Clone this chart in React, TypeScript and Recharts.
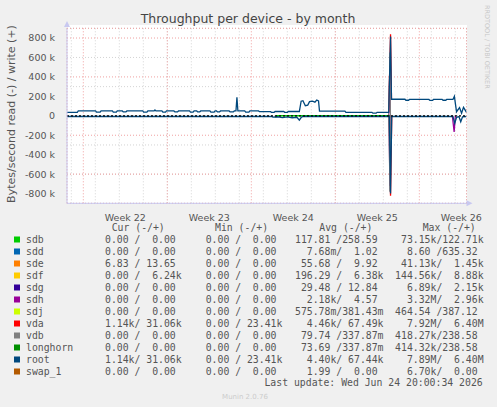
import React from 'react';
import { LineChart, Line, XAxis, YAxis, CartesianGrid, ReferenceLine } from 'recharts';

// time is in days, day 0 = start of week 22; values in k bytes/s
const rootWrite: [number, number][] = [
  [-1.36, 36], [-0.5, 36], [-0.42, 50],
  [1.02, 50], [1.1, 37], [1.4, 37], [1.48, 50],
  [2.42, 50], [2.5, 37], [2.75, 37], [2.83, 50],
  [3.25, 50], [3.33, 40], [3.55, 40], [3.63, 50],
  [4.95, 50], [5.03, 38], [5.3, 38], [5.38, 50],
  [5.9, 50], [5.97, 60], [6.05, 50],
  [6.55, 50], [6.63, 38], [6.85, 38], [6.93, 50],
  [7.55, 50], [7.63, 40], [7.85, 40], [7.93, 50],
  [8.85, 50], [8.93, 38], [9.15, 38], [9.23, 50],
  [9.45, 50], [9.53, 40], [9.7, 40], [9.78, 50],
  [10.55, 50], [10.63, 38], [10.9, 38], [10.98, 50],
  [11.1, 50], [11.18, 40], [11.35, 40], [11.43, 50],
  [12.15, 50], [12.23, 40], [12.5, 40], [12.58, 50],
  [12.72, 50], [12.8, 190], [12.88, 50],
  [13.45, 50], [13.53, 38], [13.8, 38], [13.88, 50],
  [14.6, 50], [14.68, 42],
  [15.6, 42], [15.68, 36], [15.9, 36], [15.98, 44],
  [16.7, 44], [16.78, 36], [17.0, 36], [17.08, 44],
  [18.0, 44], [18.15, 150], [18.3, 155], [18.5, 104], [18.7, 110], [18.85, 145],
  [19.1, 150], [19.3, 140], [19.45, 162], [19.6, 152], [19.68, 48],
  [21.8, 48], [21.88, 36], [24.05, 36], [24.13, 27], [24.4, 27], [24.48, 36],
  [25.45, 36], [25.6, 815], [25.68, 170],
  [26.8, 170], [26.88, 160], [27.1, 160], [27.18, 168],
  [28.8, 168], [28.88, 158], [29.1, 158], [29.18, 168],
  [29.9, 168], [29.98, 160], [30.2, 160], [30.28, 168],
  [30.8, 168], [30.92, 200], [31.1, 42], [31.35, 85], [31.52, 26], [31.68, 87], [31.93, 36],
];

const rootRead: [number, number][] = [
  [-1.36, -7], [15.7, -7], [15.8, -14], [16.2, -10], [16.6, -18], [17.0, -12],
  [17.4, -20], [17.8, -15], [18.0, -44], [18.15, -18], [18.3, -7],
  [25.5, -7], [25.6, -800], [25.7, -7],
  [30.8, -7], [30.95, -78], [31.1, -15], [31.3, -8], [31.45, -62], [31.6, -10], [31.93, -7],
];

const vdaWrite: [number, number][] = [[25.45, 36], [25.6, 838], [25.68, 170]];
const vdaRead: [number, number][] = [[25.5, -7], [25.6, -822], [25.7, -7]];
const vdbWrite: [number, number][] = [[25.44, 0], [25.55, 650], [25.6, 0]];
const vdbRead: [number, number][] = [[25.44, 0], [25.55, -780], [25.62, 0]];
const sdhWrite: [number, number][] = [[25.46, 0], [25.54, 600], [25.6, 0]];
const sdhSpikeRead: [number, number][] = [[25.46, 0], [25.54, -720], [25.62, 0]];
const sdhDipRead: [number, number][] = [[30.75, 0], [30.9, -165], [31.0, 0]];
const sdbRead: [number, number][] = [[16.0, 0], [16.05, -8], [16.1, 0], [25.55, 0], [25.6, -12], [25.65, 0]];

const weekTicks = [3.5, 10.5, 17.5, 24.5, 31.5];
const weekLabels = ['Week 22', 'Week 23', 'Week 24', 'Week 25', 'Week 26'];
const weekStarts = [0, 7, 14, 21, 28];
const dayTicks = Array.from({ length: 33 }, (_, i) => i - 1);
const yTicks = [-800000, -600000, -400000, -200000, 0, 200000, 400000, 600000, 800000];
const yMinor = [-900000, -800000, -700000, -600000, -500000, -400000, -300000, -200000, -100000,
  0, 100000, 200000, 300000, 400000, 500000, 600000, 700000, 800000, 900000];
const yMajor = [-800000, -600000, -400000, -200000, 200000, 400000, 600000, 800000];

const legendNames = ['sdb', 'sdd', 'sde', 'sdf', 'sdg', 'sdh', 'sdj', 'vda', 'vdb', 'longhorn', 'root', 'swap_1'];
const legendColors = ['#00CC00', '#0066B3', '#FF8000', '#FFCC00', '#330099', '#990099', '#CCFF00',
  '#FF0000', '#808080', '#008F00', '#00487D', '#B35A00'];
const curVals = ['  0.00 /  0.00', '  0.00 /  0.00', '  6.83 / 13.65', '  0.00 /  6.24k', '  0.00 /  0.00',
  '  0.00 /  0.00', '  0.00 /  0.00', '  1.14k/ 31.06k', '  0.00 /  0.00', '  0.00 /  0.00',
  '  1.14k/ 31.06k', '  0.00 /  0.00'];
const minVals = ['  0.00 /  0.00', '  0.00 /  0.00', '  0.00 /  0.00', '  0.00 /  0.00', '  0.00 /  0.00',
  '  0.00 /  0.00', '  0.00 /  0.00', '  0.00 / 23.41k', '  0.00 /  0.00', '  0.00 /  0.00',
  '  0.00 / 23.41k', '  0.00 /  0.00'];
const avgVals = ['117.81 /258.59', '  7.68m/  1.02', ' 55.68 /  9.92', '196.29 /  6.38k', ' 29.48 / 12.84',
  '  2.18k/  4.57', '575.78m/381.43m', '  4.46k/ 67.49k', ' 79.74 /337.87m', ' 73.69 /337.87m',
  '  4.40k/ 67.44k', '  1.99 /  0.00'];
const maxVals = [' 73.15k/122.71k', '  8.60 /635.32', ' 41.13k/  1.45k', '144.56k/  8.88k', '  6.89k/  2.15k',
  '  3.32M/  2.96k', '464.54 /387.12', '  7.92M/  6.40M', '418.27k/238.58', '414.32k/238.58',
  '  7.89M/  6.40M', '  6.70k/  0.00'];

const toPts = (a: [number, number][]) => a.map(([d, v]) => ({ d, v: v * 1000 }));

const SANS = 'DejaVu Sans';
const MONO = 'DejaVu Sans Mono';
const AXIS = '#c8c8f0';

function series(data: [number, number][], color: string, key: string, width = 1.3) {
  return (
    <Line
      key={key}
      data={toPts(data)}
      dataKey="v"
      type="linear"
      stroke={color}
      strokeWidth={width}
      dot={false}
      activeDot={false}
      isAnimationActive={false}
    />
  );
}

export default function App() {
  const yFmt = (v: number) => (v === 0 ? '0' : `${v / 1000} k`);
  const wFmt = (v: number) => weekLabels[weekTicks.indexOf(v)] ?? '';
  const cols = [93.2, 193.9, 295, 395.1];
  const headers = [
    ['Cur (-/+)', 111.7],
    ['Min (-/+)', 215],
    ['Avg (-/+)', 319.3],
    ['Max (-/+)', 422.7],
  ] as const;

  return (
    <div style={{ position: 'fixed', left: 0, top: 0, width: 497, height: 407, background: '#f0f0f0', overflow: 'hidden' }}>
      <div style={{ position: 'absolute', left: 67, top: 25, width: 399.5, height: 178.3, background: '#fff' }} />
      <div style={{ position: 'absolute', left: 0, top: 0 }}>
        <LineChart width={497} height={407} margin={{ top: 28.3, right: 30.5, bottom: 183.7, left: 7 }}>
          <XAxis xAxisId="days" type="number" dataKey="d" domain={[-1.36, 31.93]} ticks={dayTicks} hide allowDataOverflow />
          <XAxis xAxisId="weeks" type="number" dataKey="d" domain={[-1.36, 31.93]} ticks={weekStarts} hide allowDataOverflow />
          <YAxis yAxisId="minor" type="number" domain={[-900000, 900000]} ticks={yMinor} hide allowDataOverflow />
          <YAxis yAxisId="major" type="number" domain={[-900000, 900000]} ticks={yMajor} hide allowDataOverflow />
          <CartesianGrid xAxisId="days" yAxisId="minor" stroke="#d4d4d4" strokeDasharray="1 2" />
          <CartesianGrid xAxisId="weeks" yAxisId="major" stroke="#f0a0a0" strokeDasharray="1 2" />
          <XAxis
            type="number"
            dataKey="d"
            domain={[-1.36, 31.93]}
            ticks={weekTicks}
            interval={0}
            tickFormatter={wFmt}
            height={20}
            tickLine={false}
            tickMargin={5}
            axisLine={{ stroke: AXIS }}
            tick={{ fill: '#555', fontSize: 9.5, fontFamily: SANS }}
            allowDataOverflow
          />
          <YAxis
            type="number"
            domain={[-900000, 900000]}
            ticks={yTicks}
            tickFormatter={yFmt}
            width={60}
            tickLine={false}
            tickMargin={6}
            axisLine={{ stroke: AXIS }}
            tick={{ fill: '#555', fontSize: 9.5, fontFamily: SANS }}
            allowDataOverflow
          />
          {series(sdbRead, '#00CC00', 'sdbR', 1.6)}
          {series(sdhWrite, '#990099', 'sdhW', 1)}
          {series(sdhSpikeRead, '#990099', 'sdhR', 1)}
          {series(sdhDipRead, '#990099', 'sdhD')}
          {series(vdaWrite, '#FF0000', 'vdaW')}
          {series(vdaRead, '#FF0000', 'vdaR')}
          {series(vdbWrite, '#808080', 'vdbW', 1)}
          {series(vdbRead, '#808080', 'vdbR', 1)}
          {series(rootRead, '#00487D', 'rootR')}
          {series(rootWrite, '#00487D', 'rootW')}
          <ReferenceLine y={0} stroke="#000" strokeDasharray="2 2" strokeWidth={1.2} />
        </LineChart>
      </div>
      <svg width={497} height={407} style={{ position: 'absolute', left: 0, top: 0, pointerEvents: 'none' }}>
        <polygon points="64,27 70,27 67,21" fill={AXIS} />
        <polygon points="466.5,200.3 466.5,206.3 472.5,203.3" fill={AXIS} />
        <text x={248} y={23} textAnchor="middle" fontFamily={SANS} fontSize={12.5} fill="#444">
          Throughput per device - by month
        </text>
        <text x={15} y={114} textAnchor="middle" fontFamily={SANS} fontSize={11} fill="#555" transform="rotate(-90 15 114)">
          Bytes/second read (-) / write (+)
        </text>
        <text x={485} y={5} fontFamily={SANS} fontSize={6.5} fill="#c8c8c8" transform="rotate(90 485 5)">
          RRDTOOL / TOBI OETIKER
        </text>
        {headers.map(([h, x]) => (
          <text key={h} x={x} y={231} fontFamily={MONO} fontSize={9.8} fill="#555" style={{ whiteSpace: 'pre' }}>
            {h}
          </text>
        ))}
        {legendNames.map((name, i) => {
          const y = 243 + i * 12;
          return (
            <g key={name}>
              <rect x={14} y={y - 6.5} width={6} height={6} fill={legendColors[i]} />
              <text x={26} y={y} fontFamily={MONO} fontSize={9.8} fill="#555">{name}</text>
              {[curVals[i], minVals[i], avgVals[i], maxVals[i]].map((s, j) => (
                <text key={j} x={cols[j]} y={y} fontFamily={MONO} fontSize={9.8} fill="#555" style={{ whiteSpace: 'pre' }}>
                  {s}
                </text>
              ))}
            </g>
          );
        })}
        <text x={482.7} y={386} textAnchor="end" fontFamily={MONO} fontSize={9.8} fill="#555" style={{ whiteSpace: 'pre' }}>
          Last update: Wed Jun 24 20:00:34 2026
        </text>
        <text x={245} y={398.5} textAnchor="middle" fontFamily={SANS} fontSize={7} fill="#cccccc">
          Munin 2.0.76
        </text>
      </svg>
    </div>
  );
}
